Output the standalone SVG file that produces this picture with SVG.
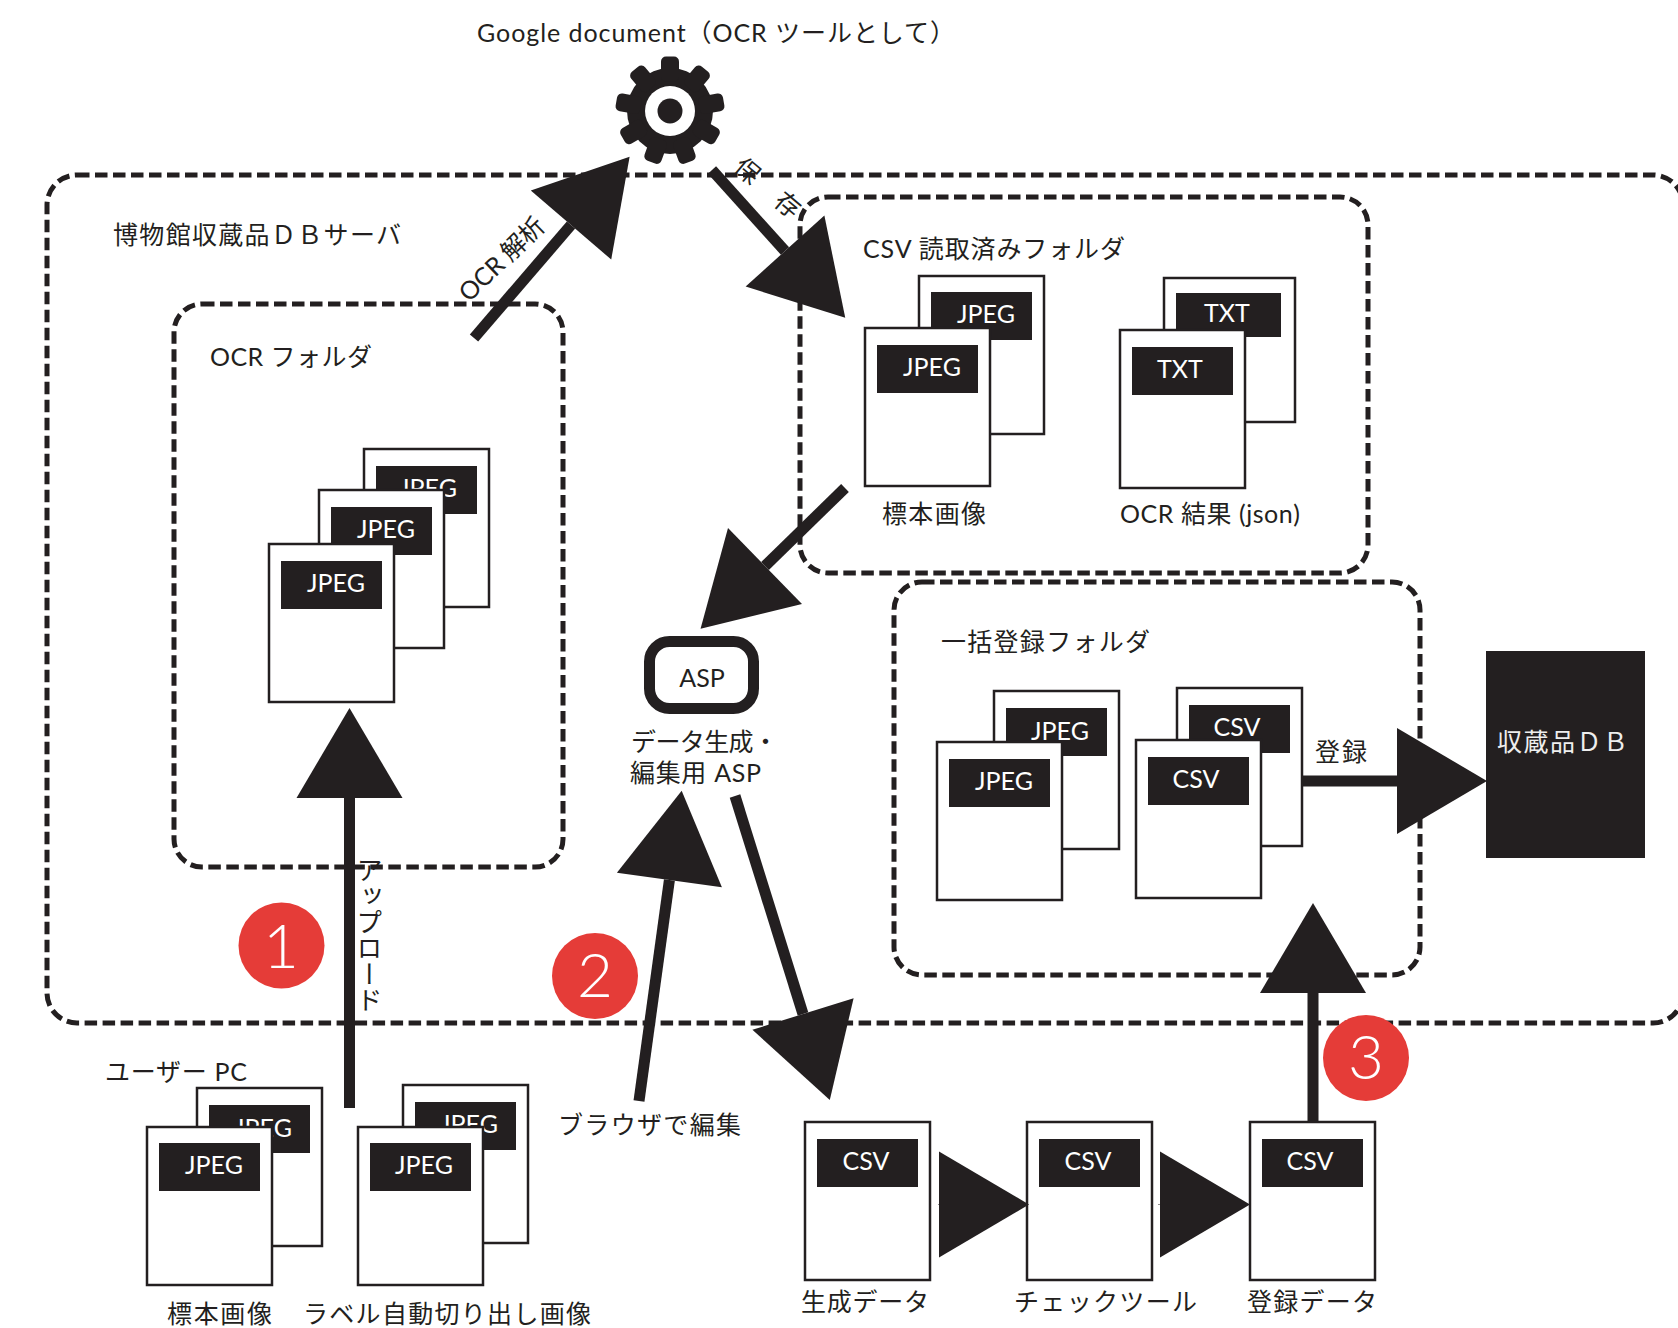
<svg xmlns="http://www.w3.org/2000/svg" width="1678" height="1328" viewBox="0 0 1678 1328">
<style>
text{font-family:"Lato","Noto Sans CJK JP",sans-serif;font-size:25px;fill:#231f20;font-weight:400}
.f{fill:none;stroke:#231f20;stroke-width:5;stroke-dasharray:12.500 5.500}
.d{fill:#fff;stroke:#231f20;stroke-width:2.5}
.l{fill:#231f20}
.w{fill:#fff;text-anchor:middle}
.c{fill:none;stroke:#231f20;stroke-width:11;marker-end:url(#h)}
.s{stroke-width:.5}
.n{fill:#e53c38}
.nt{fill:#fff;font-size:62px;text-anchor:middle;font-weight:300}
</style>
<defs>
<marker id="h" markerUnits="userSpaceOnUse" markerWidth="92" markerHeight="108" viewBox="0 0 92 108" refX="1" refY="54" orient="auto"><path d="M1,1L91,54L1,107Z" fill="#231f20"/></marker>
</defs>
<rect fill="#fff" width="1678" height="1328"/>
<g id="server"><rect class="f" x="47" y="175" width="1636" height="848" rx="30"/><text x="113" y="244" textLength="288">博物館収蔵品ＤＢサーバ</text></g>
<g id="ocr-folder"><rect class="f" x="174" y="304" width="389" height="563" rx="28"/><text x="210" y="366" textLength="162">OCR フォルダ</text>
<rect class="d" x="364" y="449" width="125" height="158"/><rect class="l" x="376" y="466" width="101" height="48"/><text class="w" x="428" y="497">JPEG</text>
<rect class="d" x="319" y="490" width="125" height="158"/><rect class="l" x="331" y="507" width="101" height="48"/><text class="w" x="386" y="538">JPEG</text>
<rect class="d" x="269" y="544" width="125" height="158"/><rect class="l" x="281" y="561" width="101" height="48"/><text class="w" x="336" y="592">JPEG</text></g>
<g id="csv-folder"><rect class="f" x="800" y="197" width="568" height="376" rx="28"/><text x="863" y="258" textLength="262">CSV 読取済みフォルダ</text>
<rect class="d" x="919" y="276" width="125" height="158"/><rect class="l" x="931" y="292" width="101" height="48"/><text class="w" x="986" y="323">JPEG</text>
<rect class="d" x="865" y="328" width="125" height="158"/><rect class="l" x="877" y="345" width="101" height="48"/><text class="w" x="932" y="376">JPEG</text>
<text x="882" y="523" textLength="104">標本画像</text>
<rect class="d" x="1164" y="278" width="131" height="144"/><rect class="l" x="1176" y="293" width="105" height="44"/><text class="w" x="1227" y="322">TXT</text>
<rect class="d" x="1120" y="330" width="125" height="158"/><rect class="l" x="1132" y="347" width="101" height="48"/><text class="w" x="1180" y="378">TXT</text>
<text x="1120" y="523" textLength="180">OCR 結果 (json)</text></g>
<g id="bulk-folder"><rect class="f" x="894" y="582" width="526" height="393" rx="28"/><text x="941" y="651" textLength="209">一括登録フォルダ</text>
<rect class="d" x="994" y="691" width="125" height="158"/><rect class="l" x="1006" y="708" width="101" height="48"/><text class="w" x="1060" y="740">JPEG</text>
<rect class="d" x="937" y="742" width="125" height="158"/><rect class="l" x="949" y="759" width="101" height="48"/><text class="w" x="1004" y="790">JPEG</text>
<rect class="d" x="1177" y="688" width="125" height="158"/><rect class="l" x="1189" y="705" width="101" height="48"/><text class="w" x="1237" y="736">CSV</text>
<rect class="d" x="1136" y="740" width="125" height="158"/><rect class="l" x="1148" y="757" width="101" height="48"/><text class="w" x="1196" y="788">CSV</text></g>
<g id="collection-db"><rect fill="#231f20" x="1486" y="651" width="159" height="207"/><text x="1497" y="751" textLength="131" style="fill:#eee">収蔵品ＤＢ</text></g>
<g id="asp"><rect x="649.500" y="641.500" width="104" height="67" rx="20" fill="#fff" stroke="#231f20" stroke-width="11"/><text x="702" y="687" text-anchor="middle">ASP</text><text x="631" y="751" textLength="147">データ生成・</text><text x="630" y="782" textLength="131">編集用 ASP</text></g>
<g id="google-doc"><text x="477" y="42" textLength="478">Google document（OCR ツールとして）</text>
<g transform="translate(670 111)" fill="#231f20"><circle r="43"/>
<rect x="-9" y="-54.500" width="18" height="25" rx="5"/><rect x="-9" y="-54.500" width="18" height="25" rx="5" transform="rotate(40)"/><rect x="-9" y="-54.500" width="18" height="25" rx="5" transform="rotate(80)"/><rect x="-9" y="-54.500" width="18" height="25" rx="5" transform="rotate(120)"/><rect x="-9" y="-54.500" width="18" height="25" rx="5" transform="rotate(160)"/><rect x="-9" y="-54.500" width="18" height="25" rx="5" transform="rotate(200)"/><rect x="-9" y="-54.500" width="18" height="25" rx="5" transform="rotate(240)"/><rect x="-9" y="-54.500" width="18" height="25" rx="5" transform="rotate(280)"/><rect x="-9" y="-54.500" width="18" height="25" rx="5" transform="rotate(320)"/>
<circle r="25" fill="#fff"/><circle r="12.500"/></g></g>
<g id="user-pc"><text x="105" y="1081" textLength="142">ユーザー PC</text>
<rect class="d" x="197" y="1088" width="125" height="158"/><rect class="l" x="209" y="1105" width="101" height="48"/><text class="w" x="263" y="1137">JPEG</text>
<rect class="d" x="147" y="1127" width="125" height="158"/><rect class="l" x="159" y="1143" width="101" height="48"/><text class="w" x="214" y="1174">JPEG</text>
<text x="167" y="1323" textLength="105">標本画像</text>
<rect class="d" x="403" y="1085" width="125" height="158"/><rect class="l" x="415" y="1102" width="101" height="48"/><text class="w" x="469" y="1133">JPEG</text>
<rect class="d" x="358" y="1127" width="125" height="158"/><rect class="l" x="370" y="1143" width="101" height="48"/><text class="w" x="424" y="1174">JPEG</text>
<text x="303" y="1323" textLength="288">ラベル自動切り出し画像</text></g>
<g id="csv-generated"><rect class="d" x="805" y="1122" width="125" height="158"/><rect class="l" x="817" y="1139" width="101" height="48"/><text class="w" x="866" y="1170">CSV</text><text x="801" y="1311" textLength="128">生成データ</text></g>
<g id="csv-check"><rect class="d" x="1027" y="1122" width="125" height="158"/><rect class="l" x="1039" y="1139" width="101" height="48"/><text class="w" x="1088" y="1170">CSV</text><text x="1014" y="1311" textLength="183">チェックツール</text></g>
<g id="csv-register"><rect class="d" x="1250" y="1122" width="125" height="158"/><rect class="l" x="1262" y="1139" width="101" height="48"/><text class="w" x="1310" y="1170">CSV</text><text x="1247" y="1311" textLength="130">登録データ</text></g>
<g id="connectors">
<path class="c" d="M349.500,1108V798"/>
<path class="c" d="M474,338L571,225"/>
<path class="c" d="M712,170L785,251"/>
<path class="c" d="M845,488L765,566"/>
<path class="c" d="M639,1101L669.400,880"/>
<path class="c" d="M735,796L803,1014"/>
<path class="c" d="M1302,781H1397"/>
<path class="c" d="M1313,1122V993"/>
<path class="c s" d="M938,1204.500H939"/>
<path class="c s" d="M1158,1204.500H1160"/>
</g>
<g id="connector-labels">
<text transform="translate(469 303) rotate(-44)" textLength="108">OCR 解析</text>
<text transform="translate(762.400 195.300) rotate(40)" text-anchor="middle" style="letter-spacing:1.5px">保　存</text>
<text x="368" y="857" style="writing-mode:vertical-rl;font-size:26px">アップロード</text>
<text x="1315" y="761" textLength="52">登録</text>
<text x="558" y="1134" textLength="183">ブラウザで編集</text>
</g>
<g id="step-1"><circle class="n" cx="281.500" cy="945.500" r="43"/><text class="nt" x="281" y="968">1</text></g>
<g id="step-2"><circle class="n" cx="595" cy="976" r="43"/><text class="nt" x="595" y="997">2</text></g>
<g id="step-3"><circle class="n" cx="1366" cy="1058" r="43"/><text class="nt" x="1366" y="1079">3</text></g>
</svg>
